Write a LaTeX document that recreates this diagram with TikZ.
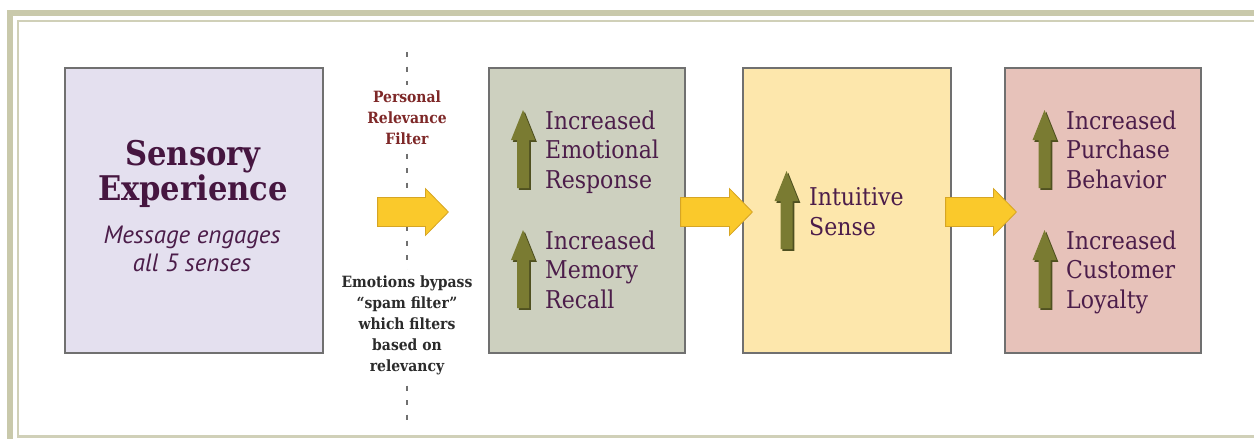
\documentclass[tikz,border=0pt]{standalone}
\usepackage{fontspec}
\usetikzlibrary{calc}
\newfontfamily\slabfont{DejaVu Serif Condensed}
\newfontfamily\humanistfont{PT Sans}

\definecolor{frameolive}{HTML}{C9C9AB}
\definecolor{frameline}{HTML}{D0D0B8}
\definecolor{boxedge}{HTML}{707070}
\definecolor{lavender}{HTML}{E4E0EF}
\definecolor{sage}{HTML}{CDD0BF}
\definecolor{cream}{HTML}{FDE7AC}
\definecolor{blush}{HTML}{E7C2BA}
\definecolor{plum}{HTML}{4C1D4A}
\definecolor{plumdark}{HTML}{461640}
\definecolor{filterred}{HTML}{7E2828}
\definecolor{inkgray}{HTML}{2B2B2B}
\definecolor{gold}{HTML}{FAC92B}
\definecolor{goldedge}{HTML}{D6A524}
\definecolor{olive}{HTML}{7A7B32}
\definecolor{olivedark}{HTML}{4F5020}

% block arrow between two points on the same horizontal line
\newcommand\blockarrow[2]{%
  \filldraw[fatarrow]
    ($(#1)+(0,-14.5)$) -- ($(#2)+(-23,-14.5)$) -- ($(#2)+(-23,-23.5)$) --
    (#2) -- ($(#2)+(-23,23.5)$) -- ($(#2)+(-23,14.5)$) -- ($(#1)+(0,14.5)$) -- cycle;}

% multi-line nodes below are placed by the baseline of their last line
\tikzset{
  stagebox/.style={draw=boxedge, line width=1.2pt, minimum width=#1, minimum height=285pt, inner sep=0pt},
  fatarrow/.style={fill=gold, draw=goldedge, line width=0.8pt, line join=miter},
  bodytext/.style={font=\slabfont\fontsize{24.5}{29.3}\selectfont, text=plum, align=left, inner sep=0pt, anchor=base west},
  filternote/.style={font=\slabfont\bfseries\fontsize{15.5}{21}\selectfont, align=center, fill=white, inner xsep=2pt, inner ysep=5pt, anchor=base},
  gainarrow/.pic={
    \fill[olivedark] (-4.2,1.8) -- (-4.2,-46.2) -- (-10.2,-46.2) -- (1.8,-76.2) -- (13.8,-46.2) -- (7.8,-46.2) -- (7.8,1.8) -- cycle;
    \fill[olive] (-6,0) -- (-6,-48) -- (-12,-48) -- (0,-78) -- (12,-48) -- (6,-48) -- (6,0) -- cycle;
  }
}

\begin{document}
\begin{tikzpicture}[x=1pt, y=-1pt]
  \useasboundingbox (0,0) rectangle (1254,439);

  % frame
  \draw[frameolive, line width=6pt] (10,450) -- (10,13) -- (1270,13);
  \draw[frameline, line width=2.4pt] (1270,21) -- (18,21) -- (18,436.3) -- (1270,436.3);

  % stages
  \node[stagebox=258pt, fill=lavender] (sens) at (194,210.5) {};
  \node[stagebox=196pt, fill=sage]     (emo)  at (587,210.5) {};
  \node[stagebox=208pt, fill=cream]    (intu) at (847,210.5) {};
  \node[stagebox=196pt, fill=blush]    (buy)  at (1103,210.5) {};

  % relevance filter
  \coordinate (filtertop) at (407,52);
  \coordinate (filterbot) at (407,420);
  \draw[boxedge, line width=1.3pt, dash pattern=on 5pt off 9.5pt] (filtertop) -- (filterbot);
  \node[filternote, text=filterred] (filtername) at (407,144) {Personal\\Relevance\\Filter};
  \node[filternote, text=inkgray] (filterwhy) at (407,371) {Emotions bypass\\“spam filter”\\which filters\\based on\\relevancy};

  % flow arrows
  \coordinate (a1s) at ($(sens.east)+(54,1.5)$);
  \coordinate (a1e) at ($(emo.west)+(-40,1.5)$);
  \coordinate (a2s) at ($(emo.east)+(-5,1.5)$);
  \coordinate (a2e) at ($(intu.west)+(10,1.5)$);
  \coordinate (a3s) at ($(intu.east)+(-6,1.5)$);
  \coordinate (a3e) at ($(buy.west)+(12,1.5)$);
  \blockarrow{a1s}{a1e}
  \blockarrow{a2s}{a2e}
  \blockarrow{a3s}{a3e}

  % sensory experience
  \node[font=\slabfont\bfseries\fontsize{34}{35}\selectfont, text=plumdark, align=center, inner sep=0pt, anchor=base]
    (senstitle) at (193,200) {Sensory\\Experience};
  \node[font=\humanistfont\itshape\fontsize{25}{28}\selectfont, text=plum, align=center, inner sep=0pt, anchor=base]
    (sensnote) at (192,271) {Message engages\\all 5 senses};

  % outcomes
  \pic at (523,188) {gainarrow};
  \node[bodytext] (emoresp) at (545,188) {Increased\\Emotional\\Response};
  \pic at (523,308) {gainarrow};
  \node[bodytext] (memrec) at (545,308) {Increased\\Memory\\Recall};

  \pic at (786.5,249) {gainarrow};
  \node[bodytext] (intsense) at (809,235) {Intuitive\\Sense};

  \pic at (1044.5,188) {gainarrow};
  \node[bodytext] (purch) at (1066,188) {Increased\\Purchase\\Behavior};
  \pic at (1044.5,308) {gainarrow};
  \node[bodytext] (loyal) at (1066,308) {Increased\\Customer\\Loyalty};
\end{tikzpicture}
\end{document}
